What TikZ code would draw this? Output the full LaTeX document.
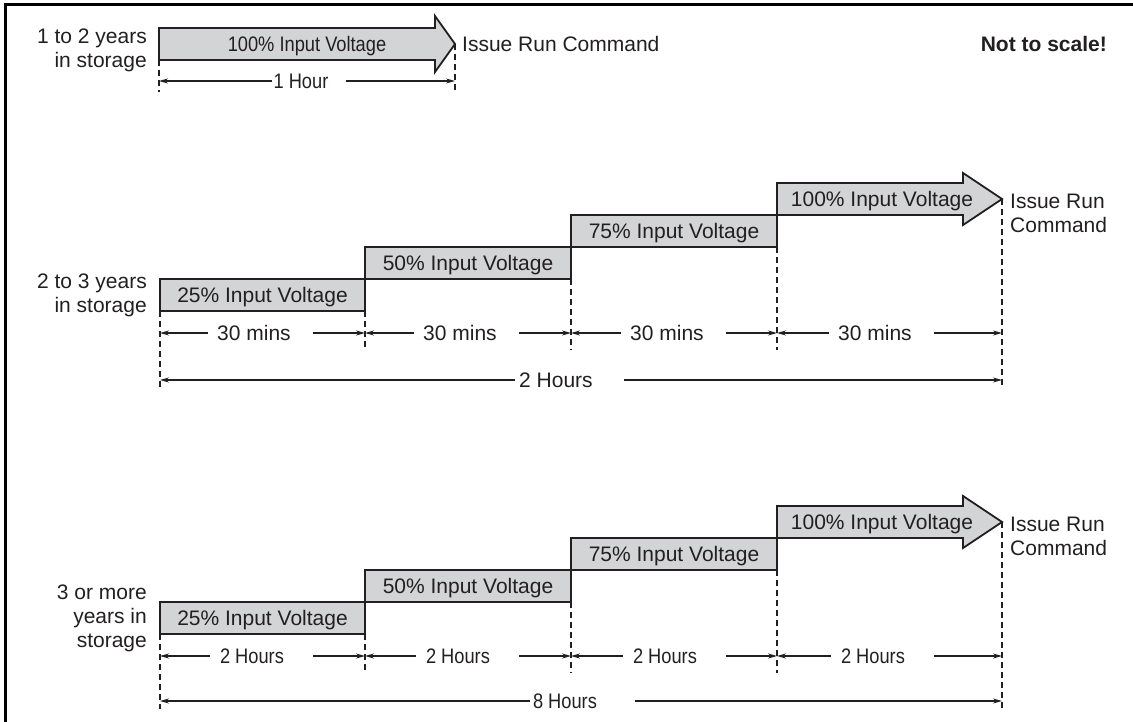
\documentclass[tikz,border=0pt]{standalone}
\usepackage{fontspec}
\setmainfont{Liberation Sans}
\newfontfamily\narrowfont[FakeStretch=0.87]{Liberation Sans}
\usetikzlibrary{arrows.meta}
\definecolor{boxfill}{RGB}{211,212,214}
\definecolor{ink}{RGB}{35,31,32}
\tikzset{
  stepbox/.style={draw=ink, fill=boxfill, line width=1.8pt, minimum width=206pt, minimum height=32pt,
    outer sep=0pt, inner sep=0pt, anchor=north west, font=\fontsize{21}{25}\selectfont, text=ink, text depth=0pt},
  bigarrow/.style={draw=ink, fill=boxfill, line width=1.8pt, line join=miter},
  lbl/.style={font=\fontsize{21}{24}\selectfont, text=ink, inner sep=0pt},
  nlbl/.style={font=\narrowfont\fontsize{21}{24}\selectfont, text=ink, inner sep=0pt, text depth=0pt},
  guide/.style={draw=ink, line width=1.3pt, dash pattern=on 6pt off 4pt},
  dimline/.style={draw=ink, line width=1.2pt, -{Stealth[length=9pt,width=5pt]}},
}
\begin{document}
\begin{tikzpicture}[x=1pt,y=-1pt]
\useasboundingbox (0,0) rectangle (1133,722);
\draw[line width=3pt, black] (5,722) -- (5,5) -- (1133,5);

% ---------------- Row 1 ----------------
\node[lbl, align=right, anchor=east] (r1lab) at (147,50) {1 to 2 years\\in storage};
\draw[bigarrow] (159,28) -- (435,28) -- (435,16) -- (455,44) -- (435,72) -- (435,60) -- (159,60) -- cycle;
\node[nlbl] (r1a) at (307,44) {100\% Input Voltage};
\node[lbl, anchor=west, text depth=0pt] (r1iss) at (462,44) {Issue Run Command};
\node[lbl, anchor=east, font=\bfseries\fontsize{21}{24}\selectfont, text depth=0pt] (nts) at (1107,44) {Not to scale!};
\coordinate (r1s) at (159,60);
\coordinate (r1tip) at (455,44);
\coordinate (r1low) at (0,92);
\draw[guide] (r1s) -- (r1s |- r1low);
\draw[guide] (r1tip) -- (r1tip |- r1low);
\coordinate (r1g0) at (159,81);
\coordinate (r1g1) at (455,81);
\node[nlbl] (r1d) at (301,81) {1 Hour};
\draw[dimline] ([xshift=-1pt]r1d.west) -- (r1g0);
\draw[dimline] ([xshift=17pt]r1d.east) -- (r1g1);

% ---------------- Row 2 ----------------
\node[lbl, align=right, anchor=east] (r2lab) at (147,295) {2 to 3 years\\in storage};
\node[stepbox, minimum width=205pt] (r2b1) at (160,279) {25\% Input Voltage};
\node[stepbox] (r2b2) at (365,247) {50\% Input Voltage};
\node[stepbox] (r2b3) at (571,215) {75\% Input Voltage};
\draw[bigarrow] (777,183) -- (963,183) -- (963,173) -- (1002,199) -- (963,225) -- (963,215) -- (777,215) -- cycle;
\node[lbl, text depth=0pt] (r2a) at (882,199) {100\% Input Voltage};
\node[lbl, align=left, anchor=west] (r2iss) at (1010,213) {Issue Run\\Command};
\coordinate (r2tip) at (1002,199);
\coordinate (r2low) at (0,388);
\coordinate (r2mid) at (0,350);
\draw[guide] (r2b1.south west) -- (r2b1.south west |- r2low);
\draw[guide] (r2b1.south east) -- (r2b1.south east |- r2mid);
\draw[guide] (r2b2.south east) -- (r2b2.south east |- r2mid);
\draw[guide] (r2b3.south east) -- (r2b3.south east |- r2mid);
\draw[guide] (r2tip) -- (r2tip |- r2low);
\coordinate (r2g0) at (160,333);
\coordinate (r2g1) at (365,333);
\coordinate (r2g2) at (571,333);
\coordinate (r2g3) at (777,333);
\coordinate (r2g4) at (1002,333);
\node[lbl] (r2d1) at (254,333) {30 mins};
\node[lbl] (r2d2) at (460,333) {30 mins};
\node[lbl] (r2d3) at (667,333) {30 mins};
\node[lbl] (r2d4) at (875,333) {30 mins};
\draw[dimline] ([xshift=-9pt]r2d1.west) -- (r2g0);
\draw[dimline] ([xshift=22pt]r2d1.east) -- (r2g1);
\draw[dimline] ([xshift=-9pt]r2d2.west) -- (r2g1);
\draw[dimline] ([xshift=22pt]r2d2.east) -- (r2g2);
\draw[dimline] ([xshift=-9pt]r2d3.west) -- (r2g2);
\draw[dimline] ([xshift=22pt]r2d3.east) -- (r2g3);
\draw[dimline] ([xshift=-9pt]r2d4.west) -- (r2g3);
\draw[dimline] ([xshift=22pt]r2d4.east) -- (r2g4);
\coordinate (r2t0) at (160,380);
\coordinate (r2t1) at (1002,380);
\node[lbl] (r2tot) at (556,380) {2 Hours};
\draw[dimline] ([xshift=-4pt]r2tot.west) -- (r2t0);
\draw[dimline] ([xshift=31pt]r2tot.east) -- (r2t1);

% ---------------- Row 3 ----------------
\node[lbl, align=right, anchor=east] (r3lab) at (147,618) {3 or more\\years in\\storage};
\node[stepbox, minimum width=205pt] (r3b1) at (160,602) {25\% Input Voltage};
\node[stepbox] (r3b2) at (365,570) {50\% Input Voltage};
\node[stepbox] (r3b3) at (571,538) {75\% Input Voltage};
\draw[bigarrow] (777,506) -- (963,506) -- (963,496) -- (1002,522) -- (963,548) -- (963,538) -- (777,538) -- cycle;
\node[lbl, text depth=0pt] (r3a) at (882,522) {100\% Input Voltage};
\node[lbl, align=left, anchor=west] (r3iss) at (1010,536) {Issue Run\\Command};
\coordinate (r3tip) at (1002,522);
\coordinate (r3low) at (0,709);
\coordinate (r3mid) at (0,673);
\draw[guide] (r3b1.south west) -- (r3b1.south west |- r3low);
\draw[guide] (r3b1.south east) -- (r3b1.south east |- r3mid);
\draw[guide] (r3b2.south east) -- (r3b2.south east |- r3mid);
\draw[guide] (r3b3.south east) -- (r3b3.south east |- r3mid);
\draw[guide] (r3tip) -- (r3tip |- r3low);
\coordinate (r3g0) at (160,656);
\coordinate (r3g1) at (365,656);
\coordinate (r3g2) at (571,656);
\coordinate (r3g3) at (777,656);
\coordinate (r3g4) at (1002,656);
\node[nlbl] (r3d1) at (252,656) {2 Hours};
\node[nlbl] (r3d2) at (458,656) {2 Hours};
\node[nlbl] (r3d3) at (665,656) {2 Hours};
\node[nlbl] (r3d4) at (873,656) {2 Hours};
\draw[dimline] ([xshift=-10pt]r3d1.west) -- (r3g0);
\draw[dimline] ([xshift=29pt]r3d1.east) -- (r3g1);
\draw[dimline] ([xshift=-10pt]r3d2.west) -- (r3g1);
\draw[dimline] ([xshift=29pt]r3d2.east) -- (r3g2);
\draw[dimline] ([xshift=-10pt]r3d3.west) -- (r3g2);
\draw[dimline] ([xshift=29pt]r3d3.east) -- (r3g3);
\draw[dimline] ([xshift=-10pt]r3d4.west) -- (r3g3);
\draw[dimline] ([xshift=29pt]r3d4.east) -- (r3g4);
\coordinate (r3t0) at (160,701);
\coordinate (r3t1) at (1002,701);
\node[nlbl] (r3tot) at (565,701) {8 Hours};
\draw[dimline] ([xshift=-3pt]r3tot.west) -- (r3t0);
\draw[dimline] ([xshift=38pt]r3tot.east) -- (r3t1);
\end{tikzpicture}
\end{document}
